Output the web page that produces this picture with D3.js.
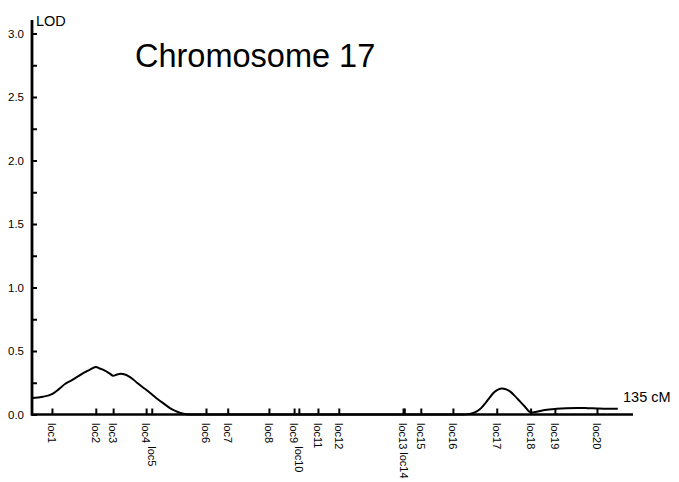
<!DOCTYPE html>
<html>
<head>
<meta charset="utf-8">
<script src="https://cdn.jsdelivr.net/npm/d3@7"></script>
<style>
  html, body { margin: 0; padding: 0; background: #fff; }
  svg { display: block; font-family: "Liberation Sans", Arial, sans-serif; }
</style>
</head>
<body>
<svg id="chart" width="679" height="482"></svg>
<script>
// Marker map for chromosome 17 (position in cM)
const markerNames = ["loc1","loc2","loc3","loc4","loc5","loc6","loc7","loc8","loc9","loc10",
                     "loc11","loc12","loc13","loc14","loc15","loc16","loc17","loc18","loc19","loc20"];
const markerPos = [4.6, 14.7, 18.7, 26.3, 27.6, 40.1, 45.1, 54.6, 60.4, 61.5,
                   65.9, 70.7, 85.5, 85.8, 89.6, 97.0, 107.1, 114.9, 120.5, 130.2];

// Multipoint LOD profile along the chromosome
const curveCM  = [0, 2.5, 4.6, 6.2, 7.6, 9.2, 10.6, 12.0, 12.9, 14.0, 14.7, 15.8, 16.8, 18.0, 18.7,
                  19.6, 20.5, 21.4, 22.1, 23.2, 24.2, 25.3, 26.3, 27.6, 29.0, 30.6, 31.8, 32.9, 34.2, 35.2, 36.6,
                  60, 80, 99.5, 100.5, 101.5, 102.5, 103.5, 104.5, 105.5, 106.5, 107.5, 108.3, 109.3, 110.3, 111.3,
                  112.4, 113.5, 114.7, 115.2, 116.8, 118.2, 120.9, 123.2, 125.5, 128.0, 130.2, 132.6, 135];
const curveLOD = [0.13, 0.14, 0.16, 0.20, 0.24, 0.27, 0.30, 0.33, 0.345, 0.365, 0.375, 0.36, 0.345, 0.32, 0.305,
                  0.315, 0.32, 0.315, 0.305, 0.28, 0.25, 0.22, 0.195, 0.16, 0.12, 0.08, 0.05, 0.03, 0.012, 0.004, 0,
                  0, 0, 0, 0.003, 0.01, 0.025, 0.05, 0.09, 0.135, 0.175, 0.198, 0.205, 0.198, 0.178, 0.145,
                  0.105, 0.065, 0.02, 0.015, 0.025, 0.035, 0.045, 0.05, 0.052, 0.05, 0.047, 0.045, 0.045];

const yTickValues = [0, 0.25, 0.5, 0.75, 1.0, 1.25, 1.5, 1.75, 2.0, 2.25, 2.5, 2.75, 3.0];
const yAxisLabel = "LOD";
const xEndLabel = "135 cM";
const titleText = "Chromosome 17";

const svg = d3.select("#chart");

const x = d3.scaleLinear().domain([0, 138.5]).range([32, 633]);
const y = d3.scaleLinear().domain([0, 3]).range([414.5, 33.5]);

// Title
svg.append("text")
  .attr("x", 135).attr("y", 67)
  .attr("font-size", 32.5)
  .attr("fill", "#000")
  .text(titleText);

// Y axis: ticks pointing into the plot, labels on major ticks only
const yAxis = d3.axisLeft(y)
  .tickValues(yTickValues)
  .tickSize(-5)
  .tickPadding(8)
  .tickFormat(d => (Math.abs(d * 2 - Math.round(d * 2)) < 1e-9) ? d3.format(".1f")(d) : "");

const gy = svg.append("g").attr("transform", "translate(32,0)").call(yAxis);
gy.select(".domain").remove();
gy.selectAll(".tick line").attr("stroke", "#000").attr("stroke-width", 2);
gy.selectAll(".tick text")
  .attr("font-size", 11.5)
  .attr("fill", "#000")
  .attr("font-family", "'Liberation Sans', Arial, sans-serif");

// Y axis line
svg.append("line")
  .attr("x1", 32).attr("x2", 32)
  .attr("y1", 20).attr("y2", y(0) + 1)
  .attr("stroke", "#000").attr("stroke-width", 2.8);

svg.append("text")
  .attr("x", 36).attr("y", 26)
  .attr("font-size", 14.5)
  .attr("fill", "#000")
  .text(yAxisLabel);

// X axis: marker ticks
const xAxis = d3.axisBottom(x)
  .tickValues(markerPos)
  .tickSize(-6)
  .tickFormat("");
const gx = svg.append("g").attr("transform", `translate(0,${y(0)})`).call(xAxis);
gx.select(".domain").remove();
gx.selectAll(".tick line").attr("stroke", "#000").attr("stroke-width", 2);

svg.append("line")
  .attr("x1", 31).attr("x2", 633)
  .attr("y1", y(0)).attr("y2", y(0))
  .attr("stroke", "#000").attr("stroke-width", 2.6);

// Marker labels, rotated, stacked when neighbours overlap
const labelTop = 423;
let prev = null;
markerNames.forEach((name, i) => {
  const px = x(markerPos[i]);
  let offset = 0;
  if (prev && px - prev.x < 9) offset = prev.offset + prev.len + 3;
  const t = svg.append("text")
    .attr("transform", `translate(${px},${labelTop + offset}) rotate(90)`)
    .attr("font-size", 11)
    .attr("fill", "#000")
    .attr("dominant-baseline", "central")
    .text(name);
  const len = t.node().getComputedTextLength();
  prev = { x: px, offset: offset, len: len };
});

// LOD curve
const pts = curveCM.map((c, i) => [c, curveLOD[i]]);
const line = d3.line()
  .x(d => x(d[0]))
  .y(d => y(d[1]))
  .curve(d3.curveMonotoneX);
svg.append("path")
  .datum(pts)
  .attr("d", line)
  .attr("fill", "none")
  .attr("stroke", "#000")
  .attr("stroke-width", 2);

// Chromosome length label
svg.append("text")
  .attr("x", 623).attr("y", 402)
  .attr("font-size", 14.5)
  .attr("fill", "#000")
  .text(xEndLabel);
</script>
</body>
</html>
